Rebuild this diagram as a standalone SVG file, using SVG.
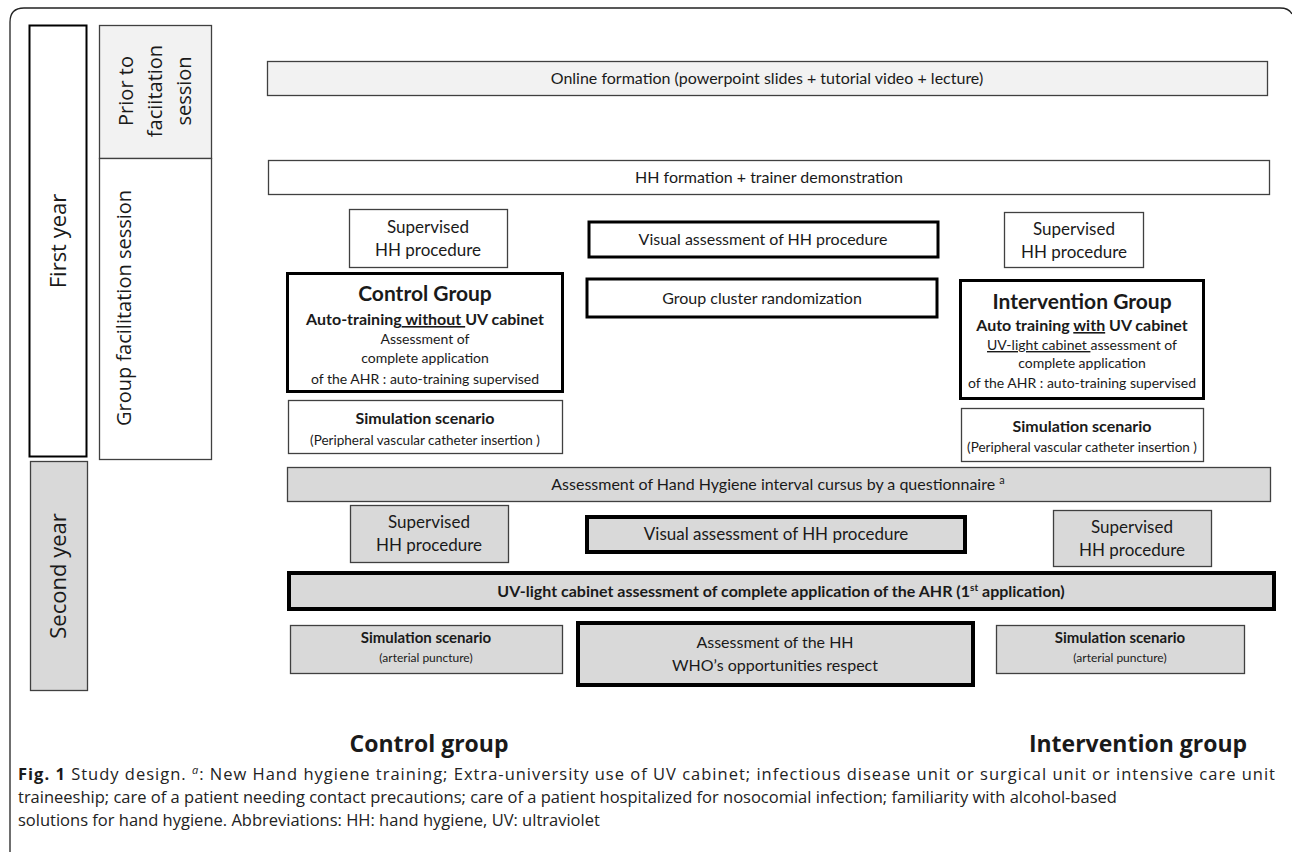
<svg xmlns="http://www.w3.org/2000/svg" width="1292" height="854" viewBox="0 0 1292 854">
<style>
.thin{fill:#fff;stroke:#404040;stroke-width:1.3}
.lt{fill:#f2f2f2;stroke:#404040;stroke-width:1.3}
.gr{fill:#d9d9d9;stroke:#404040;stroke-width:1.3}
.thk{fill:#fff;stroke:#000;stroke-width:3}
.thkg{fill:#d9d9d9;stroke:#000;stroke-width:4}
.t{font-family:Lato,"Liberation Sans",sans-serif;fill:#1a1a1a;text-anchor:middle}
.b{font-weight:bold}
.side{font-family:"Open Sans","Liberation Sans",sans-serif;fill:#1a1a1a;text-anchor:middle}
.cap{font-family:"Open Sans","Liberation Sans",sans-serif;fill:#222;font-size:16.5px}
</style>
<path d="M10 852 V22 Q10 8 24 8 H1280 Q1289 8 1292 14" fill="none" stroke="#222" stroke-width="1.3"/>

<g id="first-year"><rect x="29.5" y="25.5" width="57" height="431" fill="#fff" stroke="#000" stroke-width="2"/>
<text class="side" font-size="22" transform="translate(66,241) rotate(-90)">First year</text></g>
<g id="second-year"><rect x="30.5" y="461.5" width="57" height="229" class="gr"/>
<text class="side" font-size="22" transform="translate(66,576) rotate(-90)">Second year</text></g>
<g id="prior"><rect x="99.5" y="25.5" width="112" height="133" class="lt"/>
<text class="side" font-size="20" transform="translate(133,91) rotate(-90)">Prior to</text>
<text class="side" font-size="20" transform="translate(162,91) rotate(-90)">faciitation</text>
<text class="side" font-size="20" transform="translate(191,91) rotate(-90)">session</text></g>
<g id="group-session"><rect x="99.5" y="158.5" width="112" height="301" class="thin"/>
<text class="side" font-size="20" transform="translate(131,308) rotate(-90)">Group facilitation session</text></g>

<g id="online"><rect x="267.5" y="61.5" width="1000" height="34" class="lt"/>
<text class="t" x="767" y="84" font-size="16">Online formation (powerpoint slides + tutorial video + lecture)</text></g>
<g id="hh-formation"><rect x="268.5" y="160.5" width="1001" height="34" class="thin"/>
<text class="t" x="769" y="183" font-size="16">HH formation + trainer demonstration</text></g>

<g id="sup1-left"><rect x="349.5" y="209.5" width="158" height="58" class="thin"/>
<text class="t" x="428" y="233" font-size="17">Supervised</text><text class="t" x="428" y="256" font-size="17">HH procedure</text></g>
<g id="visual1"><rect x="589" y="222" width="349" height="35" class="thk" stroke-width="4"/>
<text class="t" x="763" y="245" font-size="16">Visual assessment of HH procedure</text></g>
<g id="sup1-right"><rect x="1004.5" y="212.5" width="139" height="55" class="thin"/>
<text class="t" x="1074" y="235" font-size="17">Supervised</text><text class="t" x="1074" y="258" font-size="17">HH procedure</text></g>
<g id="randomization"><rect x="587" y="279" width="350" height="38" class="thk" stroke-width="4"/>
<text class="t" x="762" y="304" font-size="16">Group cluster randomization</text></g>

<g id="control"><rect x="287.5" y="273.5" width="275" height="118" class="thk"/>
<text class="t b" x="425" y="301" font-size="21">Control Group</text>
<text class="t b" x="425" y="325" font-size="16">Auto-training<tspan text-decoration="underline"> without </tspan>UV cabinet</text>
<text class="t" x="425" y="344" font-size="14">Assessment of</text>
<text class="t" x="425" y="363" font-size="14">complete application</text>
<text class="t" x="425" y="384" font-size="14">of the AHR : auto-training supervised</text></g>

<g id="intervention"><rect x="960.5" y="280.5" width="243" height="118" class="thk"/>
<text class="t b" x="1082" y="309" font-size="21">Intervention Group</text>
<text class="t b" x="1082" y="331" font-size="16">Auto training <tspan text-decoration="underline">with</tspan> UV cabinet</text>
<text class="t" x="1082" y="350" font-size="14"><tspan text-decoration="underline">UV-light cabinet </tspan>assessment of</text>
<text class="t" x="1082" y="368" font-size="14">complete application</text>
<text class="t" x="1082" y="388" font-size="14">of the AHR : auto-training supervised</text></g>

<g id="sim1-left"><rect x="288.5" y="400.5" width="274" height="53" class="thin"/>
<text class="t b" x="425" y="424" font-size="16">Simulation scenario</text>
<text class="t" x="425" y="445" font-size="13.5">(Peripheral vascular catheter insertion )</text></g>
<g id="sim1-right"><rect x="961.5" y="408.5" width="242" height="53" class="thin"/>
<text class="t b" x="1082" y="432" font-size="16">Simulation scenario</text>
<text class="t" x="1082" y="452" font-size="13.5">(Peripheral vascular catheter insertion )</text></g>

<g id="questionnaire"><rect x="287.5" y="467.5" width="983" height="34" class="gr"/>
<text class="t" x="778" y="490" font-size="16">Assessment of Hand Hygiene interval cursus by a questionnaire <tspan font-size="11" dy="-6">a</tspan></text></g>

<g id="sup2-left"><rect x="350.5" y="505.5" width="158" height="57" class="gr"/>
<text class="t" x="429" y="528" font-size="17">Supervised</text><text class="t" x="429" y="551" font-size="17">HH procedure</text></g>
<g id="visual2"><rect x="587" y="517" width="378" height="35" class="thkg"/>
<text class="t" x="776" y="540" font-size="17">Visual assessment of HH procedure</text></g>
<g id="sup2-right"><rect x="1053.5" y="510.5" width="158" height="56" class="gr"/>
<text class="t" x="1132" y="533" font-size="17">Supervised</text><text class="t" x="1132" y="556" font-size="17">HH procedure</text></g>

<g id="uv-bar"><rect x="289" y="573" width="985" height="36" class="thkg"/>
<text class="t b" x="781" y="597" font-size="16">UV-light cabinet assessment of complete application of the AHR (1<tspan font-size="10" dy="-6">st</tspan><tspan dy="6"> application)</tspan></text></g>

<g id="sim2-left"><rect x="290.5" y="625.5" width="272" height="48" class="gr"/>
<text class="t b" x="426" y="643" font-size="15">Simulation scenario</text>
<text class="t" x="426" y="662" font-size="12">(arterial puncture)</text></g>
<g id="who"><rect x="578" y="623" width="395" height="62" class="thkg"/>
<text class="t" x="775" y="648" font-size="16">Assessment of the HH</text>
<text class="t" x="775" y="671" font-size="16">WHO’s opportunities respect</text></g>
<g id="sim2-right"><rect x="996.5" y="625.5" width="248" height="48" class="gr"/>
<text class="t b" x="1120" y="643" font-size="15">Simulation scenario</text>
<text class="t" x="1120" y="662" font-size="12">(arterial puncture)</text></g>

<g id="labels">
<text class="side b" x="429" y="752" font-size="23" font-weight="bold">Control group</text>
<text class="side b" x="1138" y="752" font-size="23" font-weight="bold">Intervention group</text>
</g>
<g id="connectors"></g>
<g id="caption">
<text class="cap" x="18" y="780" textLength="1257" lengthAdjust="spacing"><tspan font-weight="bold" fill="#1a1a1a">Fig. 1</tspan> Study design. <tspan font-style="italic" font-size="11" dy="-6">a</tspan><tspan dy="6">: New Hand hygiene training; Extra-university use of UV cabinet; infectious disease unit or surgical unit or intensive care unit</tspan></text>
<text class="cap" x="18" y="803">traineeship; care of a patient needing contact precautions; care of a patient hospitalized for nosocomial infection; familiarity with alcohol-based</text>
<text class="cap" x="18" y="826">solutions for hand hygiene. Abbreviations: HH: hand hygiene, UV: ultraviolet</text>
</g>
</svg>
